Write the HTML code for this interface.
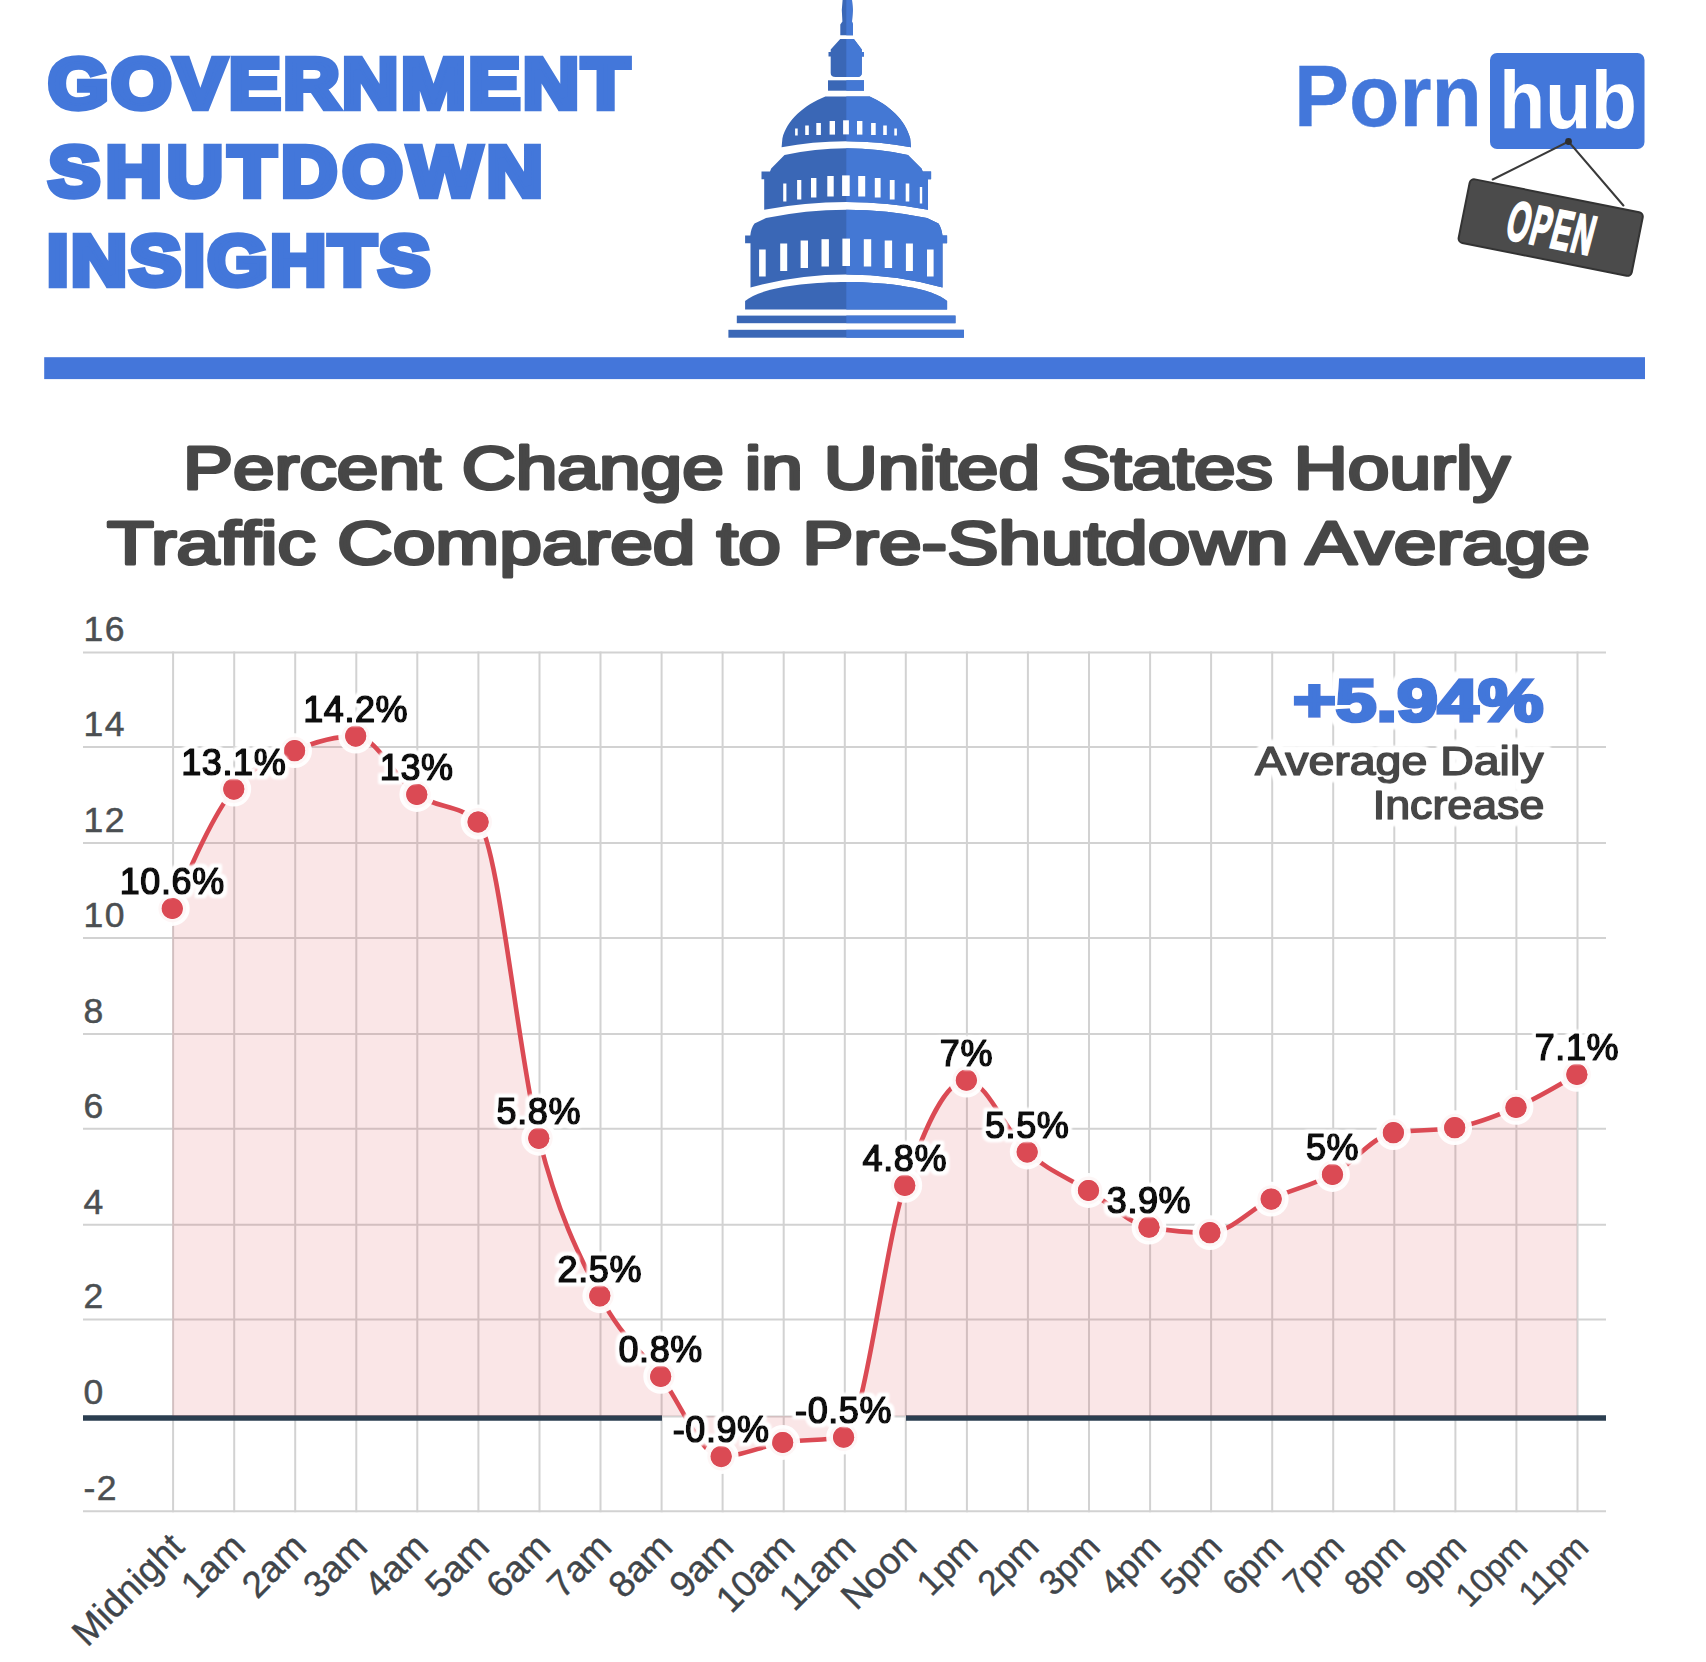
<!DOCTYPE html>
<html lang="en"><head><meta charset="utf-8"><title>Government Shutdown Insights</title>
<style>
html,body{margin:0;padding:0;background:#fff;}
body{width:1706px;height:1662px;overflow:hidden;font-family:"Liberation Sans", sans-serif;}
svg{display:block;font-family:"Liberation Sans", sans-serif;}
.ttl{font-weight:700;fill:#4377da;stroke:#4377da;stroke-width:6.4px;stroke-linejoin:miter;}
.ct{font-weight:400;fill:#474747;stroke:#474747;stroke-width:3.2px;stroke-linejoin:round;}
.yl{font-size:35.5px;fill:#4b4f52;stroke:#4b4f52;stroke-width:0.5px;}
.xl{font-size:37px;fill:#40454a;stroke:#40454a;stroke-width:0.4px;}
.dl2{font-size:36px;fill:#0a0a0a;stroke:#0a0a0a;stroke-width:1.7px;stroke-linejoin:round;filter:url(#halo);}
</style></head><body>
<svg width="1706" height="1662" viewBox="0 0 1706 1662">
<rect width="1706" height="1662" fill="#ffffff"/>
<defs>
<filter id="halo" x="-15%" y="-30%" width="130%" height="160%"><feMorphology in="SourceAlpha" operator="dilate" radius="3" result="d"/><feGaussianBlur in="d" stdDeviation="0.9" result="b"/><feFlood flood-color="#fff"/><feComposite in2="b" operator="in" result="h"/><feMerge><feMergeNode in="h"/><feMergeNode in="h"/><feMergeNode in="SourceGraphic"/></feMerge></filter>
<filter id="halo2" x="-10%" y="-30%" width="120%" height="160%"><feMorphology in="SourceAlpha" operator="dilate" radius="5.5" result="d"/><feGaussianBlur in="d" stdDeviation="1.2" result="b"/><feFlood flood-color="#fff"/><feComposite in2="b" operator="in" result="h"/><feMerge><feMergeNode in="h"/><feMergeNode in="h"/><feMergeNode in="SourceGraphic"/></feMerge></filter>
</defs>

<!--HEADER-->
<text class="ttl" transform="translate(48.2 108.1) scale(1.09 1)" font-size="71" textLength="533.0" lengthAdjust="spacing">GOVERNMENT</text>
<text class="ttl" transform="translate(48.6 196.4) scale(1.09 1)" font-size="71" textLength="453.2" lengthAdjust="spacing">SHUTDOWN</text>
<text class="ttl" transform="translate(47.0 285) scale(1.09 1)" font-size="71" textLength="351.4" lengthAdjust="spacing">INSIGHTS</text>
<rect x="44.2" y="357.2" width="1600.8" height="21.9" fill="#4476da"/>
<defs><clipPath id="capR"><rect x="846.3" y="0" width="140" height="345"/></clipPath></defs>
<g fill="#3a67b6"><path d="M842.6 0 H852 L852.8 10 L852 21.5 L853 24.5 V35.3 H840.3 V24.5 L842.4 21.5 L841.8 10 Z"/>
<path d="M840.2 39 H853.9 L861.8 49.6 V52 H864 V56.5 H861.8 V73 Q861.8 77 857 77 H835.5 Q830.7 77 830.7 73 V56.5 H828.5 V52 H830.7 V49.6 Z"/>
<rect x="828" y="80.3" width="36" height="10.4"/>
<path d="M825.4 96.5 H869.7 C889 105 905.5 120 910.2 138.5 L911 147.3 Q880 141.3 846.3 141.3 Q812 141.3 781.6 147.3 L782.4 138.5 C787 120 804 105 825.4 96.5 Z"/>
<path d="M784.5 155 Q815 148.2 846.3 148.2 Q878 148.2 908 155 L921.5 168.5 L922.7 171.6 H931.1 V179.2 H928 V209.7 Q888 202 846.3 202 Q805 202 764.2 209.7 V179.2 H761.5 V171.6 H770 L771.2 168.5 Z"/>
<path d="M766 218 Q806 209.7 846.3 209.7 Q887 209.7 927 218 L938.5 223.5 Q941.5 228 942.5 235.6 H947.1 V243.2 H942.5 V287.4 Q895 274.5 846.3 274.5 Q798 274.5 750.5 287.4 V243.2 H745.1 V235.6 H750.3 Q751 228 754.5 223.5 Z"/>
<path d="M745.1 309.5 V301 C760 288 805 282 846.3 282 C888 282 932 288 947.1 301 V309.5 Z"/>
<rect x="736.8" y="315.6" width="218.7" height="7.6"/>
<rect x="728.4" y="329.8" width="235.5" height="7.9"/></g>
<g fill="#4478d4" clip-path="url(#capR)"><path d="M842.6 0 H852 L852.8 10 L852 21.5 L853 24.5 V35.3 H840.3 V24.5 L842.4 21.5 L841.8 10 Z"/>
<path d="M840.2 39 H853.9 L861.8 49.6 V52 H864 V56.5 H861.8 V73 Q861.8 77 857 77 H835.5 Q830.7 77 830.7 73 V56.5 H828.5 V52 H830.7 V49.6 Z"/>
<rect x="828" y="80.3" width="36" height="10.4"/>
<path d="M825.4 96.5 H869.7 C889 105 905.5 120 910.2 138.5 L911 147.3 Q880 141.3 846.3 141.3 Q812 141.3 781.6 147.3 L782.4 138.5 C787 120 804 105 825.4 96.5 Z"/>
<path d="M784.5 155 Q815 148.2 846.3 148.2 Q878 148.2 908 155 L921.5 168.5 L922.7 171.6 H931.1 V179.2 H928 V209.7 Q888 202 846.3 202 Q805 202 764.2 209.7 V179.2 H761.5 V171.6 H770 L771.2 168.5 Z"/>
<path d="M766 218 Q806 209.7 846.3 209.7 Q887 209.7 927 218 L938.5 223.5 Q941.5 228 942.5 235.6 H947.1 V243.2 H942.5 V287.4 Q895 274.5 846.3 274.5 Q798 274.5 750.5 287.4 V243.2 H745.1 V235.6 H750.3 Q751 228 754.5 223.5 Z"/>
<path d="M745.1 309.5 V301 C760 288 805 282 846.3 282 C888 282 932 288 947.1 301 V309.5 Z"/>
<rect x="736.8" y="315.6" width="218.7" height="7.6"/>
<rect x="728.4" y="329.8" width="235.5" height="7.9"/></g>
<g fill="#fff"><rect x="795.1" y="128.5" width="2.6" height="7.0"/><rect x="805.2" y="125.5" width="3.6" height="9.5"/><rect x="816.3" y="123.0" width="4.6" height="12.0"/><rect x="829.6" y="121.0" width="5.4" height="13.6"/><rect x="843.1" y="120.3" width="5.8" height="14.1"/><rect x="857.0" y="121.0" width="5.4" height="13.6"/><rect x="871.1" y="123.0" width="4.6" height="12.0"/><rect x="883.2" y="125.5" width="3.6" height="9.5"/><rect x="894.3" y="128.5" width="2.6" height="7.0"/><rect x="783.2" y="183.5" width="3.2" height="18.0"/><rect x="797.1" y="180.0" width="4.2" height="19.5"/><rect x="811.0" y="178.0" width="5.4" height="19.5"/><rect x="827.3" y="176.0" width="6.4" height="20.5"/><rect x="842.1" y="175.4" width="7.6" height="20.6"/><rect x="858.2" y="176.0" width="7.0" height="20.5"/><rect x="874.8" y="178.0" width="5.8" height="19.5"/><rect x="889.8" y="180.0" width="4.8" height="19.5"/><rect x="905.7" y="183.5" width="3.6" height="18.0"/><rect x="919.8" y="187.0" width="2.4" height="16.5"/><rect x="759.1" y="249.5" width="6.6" height="27.0"/><rect x="780.2" y="243.5" width="7.0" height="27.5"/><rect x="800.6" y="240.5" width="7.4" height="27.5"/><rect x="821.5" y="239.2" width="7.4" height="27.3"/><rect x="842.4" y="238.6" width="7.6" height="27.4"/><rect x="863.8" y="239.2" width="7.4" height="27.3"/><rect x="884.7" y="240.5" width="7.4" height="27.5"/><rect x="905.9" y="243.5" width="7.0" height="27.5"/><rect x="927.0" y="249.5" width="6.6" height="27.0"/></g>
<text x="1294" y="126.4" font-size="87" font-weight="700" fill="#4377da" stroke="#4377da" stroke-width="0.3" textLength="188" lengthAdjust="spacingAndGlyphs">Porn</text>
<rect x="1490" y="53" width="154.5" height="96" rx="7" ry="7" fill="#4377da"/>
<text x="1499.3" y="128" font-size="82" font-weight="700" fill="#fff" textLength="137.5" lengthAdjust="spacingAndGlyphs">hub</text>
<g stroke="#3a3a3a" stroke-width="2" fill="none" stroke-linecap="round"><path d="M1492.7 179.5 L1568.5 141.5 L1623.4 205.5"/></g>
<circle cx="1568.5" cy="141.5" r="3.4" fill="#2e2e2e"/>
<g transform="translate(1470.5 178.5) rotate(11.3)">
<rect x="0" y="0" width="176.5" height="64.8" rx="4.5" ry="4.5" fill="#4b4b4b" stroke="#333" stroke-width="2"/>
<text transform="translate(88.5 52) scale(0.52 1) skewX(-7)" text-anchor="middle" font-size="56" font-weight="700" fill="#fff" stroke="#fff" stroke-width="1.8" vector-effect="non-scaling-stroke" letter-spacing="3">OPEN</text>
</g>
<text class="ct" x="183" y="489" font-size="61" textLength="1327" lengthAdjust="spacingAndGlyphs">Percent Change in United States Hourly</text>
<text class="ct" x="107" y="564" font-size="61" textLength="1483" lengthAdjust="spacingAndGlyphs">Traffic Compared to Pre-Shutdown Average</text>
<g stroke="#d2d2d2" stroke-width="2" fill="none">
<line x1="83" y1="652.5" x2="1606" y2="652.5"/>
<line x1="83" y1="747" x2="1606" y2="747"/>
<line x1="83" y1="843" x2="1606" y2="843"/>
<line x1="83" y1="938" x2="1606" y2="938"/>
<line x1="83" y1="1034" x2="1606" y2="1034"/>
<line x1="83" y1="1128.7" x2="1606" y2="1128.7"/>
<line x1="83" y1="1224.7" x2="1606" y2="1224.7"/>
<line x1="83" y1="1319.5" x2="1606" y2="1319.5"/>
<line x1="662" y1="1416.5" x2="906" y2="1416.5"/>
<line x1="83" y1="1511.2" x2="1606" y2="1511.2"/>
<line x1="173.1" y1="651.5" x2="173.1" y2="1512.2"/>
<line x1="234.2" y1="651.5" x2="234.2" y2="1512.2"/>
<line x1="295.2" y1="651.5" x2="295.2" y2="1512.2"/>
<line x1="356.3" y1="651.5" x2="356.3" y2="1512.2"/>
<line x1="417.3" y1="651.5" x2="417.3" y2="1512.2"/>
<line x1="478.4" y1="651.5" x2="478.4" y2="1512.2"/>
<line x1="539.5" y1="651.5" x2="539.5" y2="1512.2"/>
<line x1="600.5" y1="651.5" x2="600.5" y2="1512.2"/>
<line x1="661.6" y1="651.5" x2="661.6" y2="1512.2"/>
<line x1="722.6" y1="651.5" x2="722.6" y2="1512.2"/>
<line x1="783.7" y1="651.5" x2="783.7" y2="1512.2"/>
<line x1="844.8" y1="651.5" x2="844.8" y2="1512.2"/>
<line x1="905.8" y1="651.5" x2="905.8" y2="1512.2"/>
<line x1="966.9" y1="651.5" x2="966.9" y2="1512.2"/>
<line x1="1027.9" y1="651.5" x2="1027.9" y2="1512.2"/>
<line x1="1089.0" y1="651.5" x2="1089.0" y2="1512.2"/>
<line x1="1150.1" y1="651.5" x2="1150.1" y2="1512.2"/>
<line x1="1211.1" y1="651.5" x2="1211.1" y2="1512.2"/>
<line x1="1272.2" y1="651.5" x2="1272.2" y2="1512.2"/>
<line x1="1333.2" y1="651.5" x2="1333.2" y2="1512.2"/>
<line x1="1394.3" y1="651.5" x2="1394.3" y2="1512.2"/>
<line x1="1455.4" y1="651.5" x2="1455.4" y2="1512.2"/>
<line x1="1516.4" y1="651.5" x2="1516.4" y2="1512.2"/>
<line x1="1577.5" y1="651.5" x2="1577.5" y2="1512.2"/>
</g>
<g stroke="#2b3e50" stroke-width="5.4"><line x1="83" y1="1418" x2="662" y2="1418"/><line x1="906" y1="1418" x2="1606" y2="1418"/></g>
<path d="M172.3 908.5 C192.8 861.7 213.3 815.0 233.8 789.1 C254.1 763.5 274.3 759.5 294.6 750.7 C315.0 741.8 335.3 736.1 355.7 736.1 C376.1 736.1 396.4 780.2 416.8 794.5 C437.2 808.9 457.7 803.7 478.1 822.0 C498.3 840.2 518.6 1059.4 538.8 1138.3 C559.1 1217.6 579.5 1256.1 599.8 1295.8 C620.1 1335.4 640.4 1349.5 660.7 1376.4 C680.9 1403.1 701.0 1456.6 721.2 1456.6 C741.7 1456.6 762.2 1445.7 782.7 1442.5 C803.0 1439.3 823.3 1440.7 843.6 1437.2 C864.0 1433.6 884.4 1244.9 904.8 1185.4 C925.3 1125.5 945.9 1080.2 966.4 1080.2 C986.7 1080.2 1006.9 1133.6 1027.2 1152.0 C1047.6 1170.5 1068.1 1177.9 1088.5 1190.5 C1108.7 1202.9 1128.8 1223.6 1149.0 1227.2 C1169.3 1230.9 1189.6 1232.7 1209.9 1232.7 C1230.3 1232.7 1250.8 1208.8 1271.2 1199.1 C1291.6 1189.4 1312.1 1185.6 1332.5 1174.5 C1352.8 1163.5 1373.1 1136.0 1393.4 1132.7 C1413.8 1129.4 1434.3 1131.0 1454.7 1127.7 C1475.1 1124.4 1495.6 1116.3 1516.0 1107.4 C1536.3 1098.5 1556.6 1086.5 1576.9 1074.4 L1576.9 1416 L172.3 1416 Z" fill="#dc4b55" fill-opacity="0.14" stroke="none"/>
<path d="M172.3 908.5 C192.8 861.7 213.3 815.0 233.8 789.1 C254.1 763.5 274.3 759.5 294.6 750.7 C315.0 741.8 335.3 736.1 355.7 736.1 C376.1 736.1 396.4 780.2 416.8 794.5 C437.2 808.9 457.7 803.7 478.1 822.0 C498.3 840.2 518.6 1059.4 538.8 1138.3 C559.1 1217.6 579.5 1256.1 599.8 1295.8 C620.1 1335.4 640.4 1349.5 660.7 1376.4 C680.9 1403.1 701.0 1456.6 721.2 1456.6 C741.7 1456.6 762.2 1445.7 782.7 1442.5 C803.0 1439.3 823.3 1440.7 843.6 1437.2 C864.0 1433.6 884.4 1244.9 904.8 1185.4 C925.3 1125.5 945.9 1080.2 966.4 1080.2 C986.7 1080.2 1006.9 1133.6 1027.2 1152.0 C1047.6 1170.5 1068.1 1177.9 1088.5 1190.5 C1108.7 1202.9 1128.8 1223.6 1149.0 1227.2 C1169.3 1230.9 1189.6 1232.7 1209.9 1232.7 C1230.3 1232.7 1250.8 1208.8 1271.2 1199.1 C1291.6 1189.4 1312.1 1185.6 1332.5 1174.5 C1352.8 1163.5 1373.1 1136.0 1393.4 1132.7 C1413.8 1129.4 1434.3 1131.0 1454.7 1127.7 C1475.1 1124.4 1495.6 1116.3 1516.0 1107.4 C1536.3 1098.5 1556.6 1086.5 1576.9 1074.4" fill="none" stroke="#db4a54" stroke-width="4.6" stroke-linecap="round" stroke-linejoin="round"/>
<g fill="#db4a54" stroke="#fff" stroke-width="7" stroke-opacity="0.95">
<circle cx="172.3" cy="908.5" r="13.9"/>
<circle cx="233.8" cy="789.1" r="13.9"/>
<circle cx="294.6" cy="750.7" r="13.9"/>
<circle cx="355.7" cy="736.1" r="13.9"/>
<circle cx="416.8" cy="794.5" r="13.9"/>
<circle cx="478.1" cy="822.0" r="13.9"/>
<circle cx="538.8" cy="1138.3" r="13.9"/>
<circle cx="599.8" cy="1295.8" r="13.9"/>
<circle cx="660.7" cy="1376.4" r="13.9"/>
<circle cx="721.2" cy="1456.6" r="13.9"/>
<circle cx="782.7" cy="1442.5" r="13.9"/>
<circle cx="843.6" cy="1437.2" r="13.9"/>
<circle cx="904.8" cy="1185.4" r="13.9"/>
<circle cx="966.4" cy="1080.2" r="13.9"/>
<circle cx="1027.2" cy="1152.0" r="13.9"/>
<circle cx="1088.5" cy="1190.5" r="13.9"/>
<circle cx="1149.0" cy="1227.2" r="13.9"/>
<circle cx="1209.9" cy="1232.7" r="13.9"/>
<circle cx="1271.2" cy="1199.1" r="13.9"/>
<circle cx="1332.5" cy="1174.5" r="13.9"/>
<circle cx="1393.4" cy="1132.7" r="13.9"/>
<circle cx="1454.7" cy="1127.7" r="13.9"/>
<circle cx="1516.0" cy="1107.4" r="13.9"/>
<circle cx="1576.9" cy="1074.4" r="13.9"/>
</g>
<g fill="#db4a54">
<circle cx="172.3" cy="908.5" r="10.6"/>
<circle cx="233.8" cy="789.1" r="10.6"/>
<circle cx="294.6" cy="750.7" r="10.6"/>
<circle cx="355.7" cy="736.1" r="10.6"/>
<circle cx="416.8" cy="794.5" r="10.6"/>
<circle cx="478.1" cy="822.0" r="10.6"/>
<circle cx="538.8" cy="1138.3" r="10.6"/>
<circle cx="599.8" cy="1295.8" r="10.6"/>
<circle cx="660.7" cy="1376.4" r="10.6"/>
<circle cx="721.2" cy="1456.6" r="10.6"/>
<circle cx="782.7" cy="1442.5" r="10.6"/>
<circle cx="843.6" cy="1437.2" r="10.6"/>
<circle cx="904.8" cy="1185.4" r="10.6"/>
<circle cx="966.4" cy="1080.2" r="10.6"/>
<circle cx="1027.2" cy="1152.0" r="10.6"/>
<circle cx="1088.5" cy="1190.5" r="10.6"/>
<circle cx="1149.0" cy="1227.2" r="10.6"/>
<circle cx="1209.9" cy="1232.7" r="10.6"/>
<circle cx="1271.2" cy="1199.1" r="10.6"/>
<circle cx="1332.5" cy="1174.5" r="10.6"/>
<circle cx="1393.4" cy="1132.7" r="10.6"/>
<circle cx="1454.7" cy="1127.7" r="10.6"/>
<circle cx="1516.0" cy="1107.4" r="10.6"/>
<circle cx="1576.9" cy="1074.4" r="10.6"/>
</g>
<g class="yl">
<text x="83.5" y="641.3" letter-spacing="1.5">16</text>
<text x="83.5" y="735.8" letter-spacing="1.5">14</text>
<text x="83.5" y="831.8" letter-spacing="1.5">12</text>
<text x="83.5" y="926.8" letter-spacing="1.5">10</text>
<text x="83.5" y="1022.8" letter-spacing="1.5">8</text>
<text x="83.5" y="1117.5" letter-spacing="1.5">6</text>
<text x="83.5" y="1213.5" letter-spacing="1.5">4</text>
<text x="83.5" y="1308.3" letter-spacing="1.5">2</text>
<text x="83.5" y="1404.3" letter-spacing="1.5">0</text>
<text x="83.5" y="1500.0" letter-spacing="1.5">-2</text>
</g>
<g class="xl" text-anchor="end">
<text transform="translate(186.1 1549) rotate(-45)">Midnight</text>
<text transform="translate(247.2 1549) rotate(-45)">1am</text>
<text transform="translate(308.2 1549) rotate(-45)">2am</text>
<text transform="translate(369.3 1549) rotate(-45)">3am</text>
<text transform="translate(430.3 1549) rotate(-45)">4am</text>
<text transform="translate(491.4 1549) rotate(-45)">5am</text>
<text transform="translate(552.5 1549) rotate(-45)">6am</text>
<text transform="translate(613.5 1549) rotate(-45)">7am</text>
<text transform="translate(674.6 1549) rotate(-45)">8am</text>
<text transform="translate(735.6 1549) rotate(-45)">9am</text>
<text transform="translate(796.7 1549) rotate(-45)">10am</text>
<text transform="translate(857.8 1549) rotate(-45)">11am</text>
<text transform="translate(918.8 1549) rotate(-45)">Noon</text>
<text transform="translate(979.9 1549) rotate(-45)" style="font-size:35.3px">1pm</text>
<text transform="translate(1040.9 1549) rotate(-45)" style="font-size:35.3px">2pm</text>
<text transform="translate(1102.0 1549) rotate(-45)" style="font-size:35.3px">3pm</text>
<text transform="translate(1163.1 1549) rotate(-45)" style="font-size:35.3px">4pm</text>
<text transform="translate(1224.1 1549) rotate(-45)" style="font-size:35.3px">5pm</text>
<text transform="translate(1285.2 1549) rotate(-45)" style="font-size:35.3px">6pm</text>
<text transform="translate(1346.2 1549) rotate(-45)" style="font-size:35.3px">7pm</text>
<text transform="translate(1407.3 1549) rotate(-45)" style="font-size:35.3px">8pm</text>
<text transform="translate(1468.4 1549) rotate(-45)" style="font-size:35.3px">9pm</text>
<text transform="translate(1529.4 1549) rotate(-45)" style="font-size:33.8px">10pm</text>
<text transform="translate(1590.5 1549) rotate(-45)" style="font-size:33.8px">11pm</text>
</g>
<g text-anchor="middle" letter-spacing="0.6">
<text class="dl2" x="172.3" y="894.2">10.6%</text>
<text class="dl2" x="233.8" y="774.8">13.1%</text>
<text class="dl2" x="355.7" y="721.8">14.2%</text>
<text class="dl2" x="416.8" y="780.2">13%</text>
<text class="dl2" x="538.8" y="1124.0">5.8%</text>
<text class="dl2" x="599.8" y="1281.5">2.5%</text>
<text class="dl2" x="660.7" y="1362.1">0.8%</text>
<text class="dl2" x="721.2" y="1442.3">-0.9%</text>
<text class="dl2" x="843.6" y="1422.9">-0.5%</text>
<text class="dl2" x="904.8" y="1171.1">4.8%</text>
<text class="dl2" x="966.4" y="1065.9">7%</text>
<text class="dl2" x="1027.2" y="1137.7">5.5%</text>
<text class="dl2" x="1149.0" y="1212.9">3.9%</text>
<text class="dl2" x="1332.5" y="1160.2">5%</text>
<text class="dl2" x="1576.9" y="1060.1">7.1%</text>
</g>
<g stroke-linejoin="round">
<text x="1293" y="721.3" font-size="59" font-weight="700" textLength="250.5" lengthAdjust="spacingAndGlyphs" fill="#4377da" stroke="#4377da" stroke-width="3.6" stroke-linejoin="miter" filter="url(#halo2)">+5.94%</text>
<text x="1255" y="774.5" font-size="40" font-weight="400" textLength="288.5" lengthAdjust="spacingAndGlyphs" fill="#474747" stroke="#474747" stroke-width="1.7" stroke-linejoin="round" filter="url(#halo2)">Average Daily</text>
<text x="1372.8" y="819" font-size="40" font-weight="400" textLength="171.5" lengthAdjust="spacingAndGlyphs" fill="#474747" stroke="#474747" stroke-width="1.7" stroke-linejoin="round" filter="url(#halo2)">Increase</text>
</g>
<!--ANNOT-->
</svg></body></html>
